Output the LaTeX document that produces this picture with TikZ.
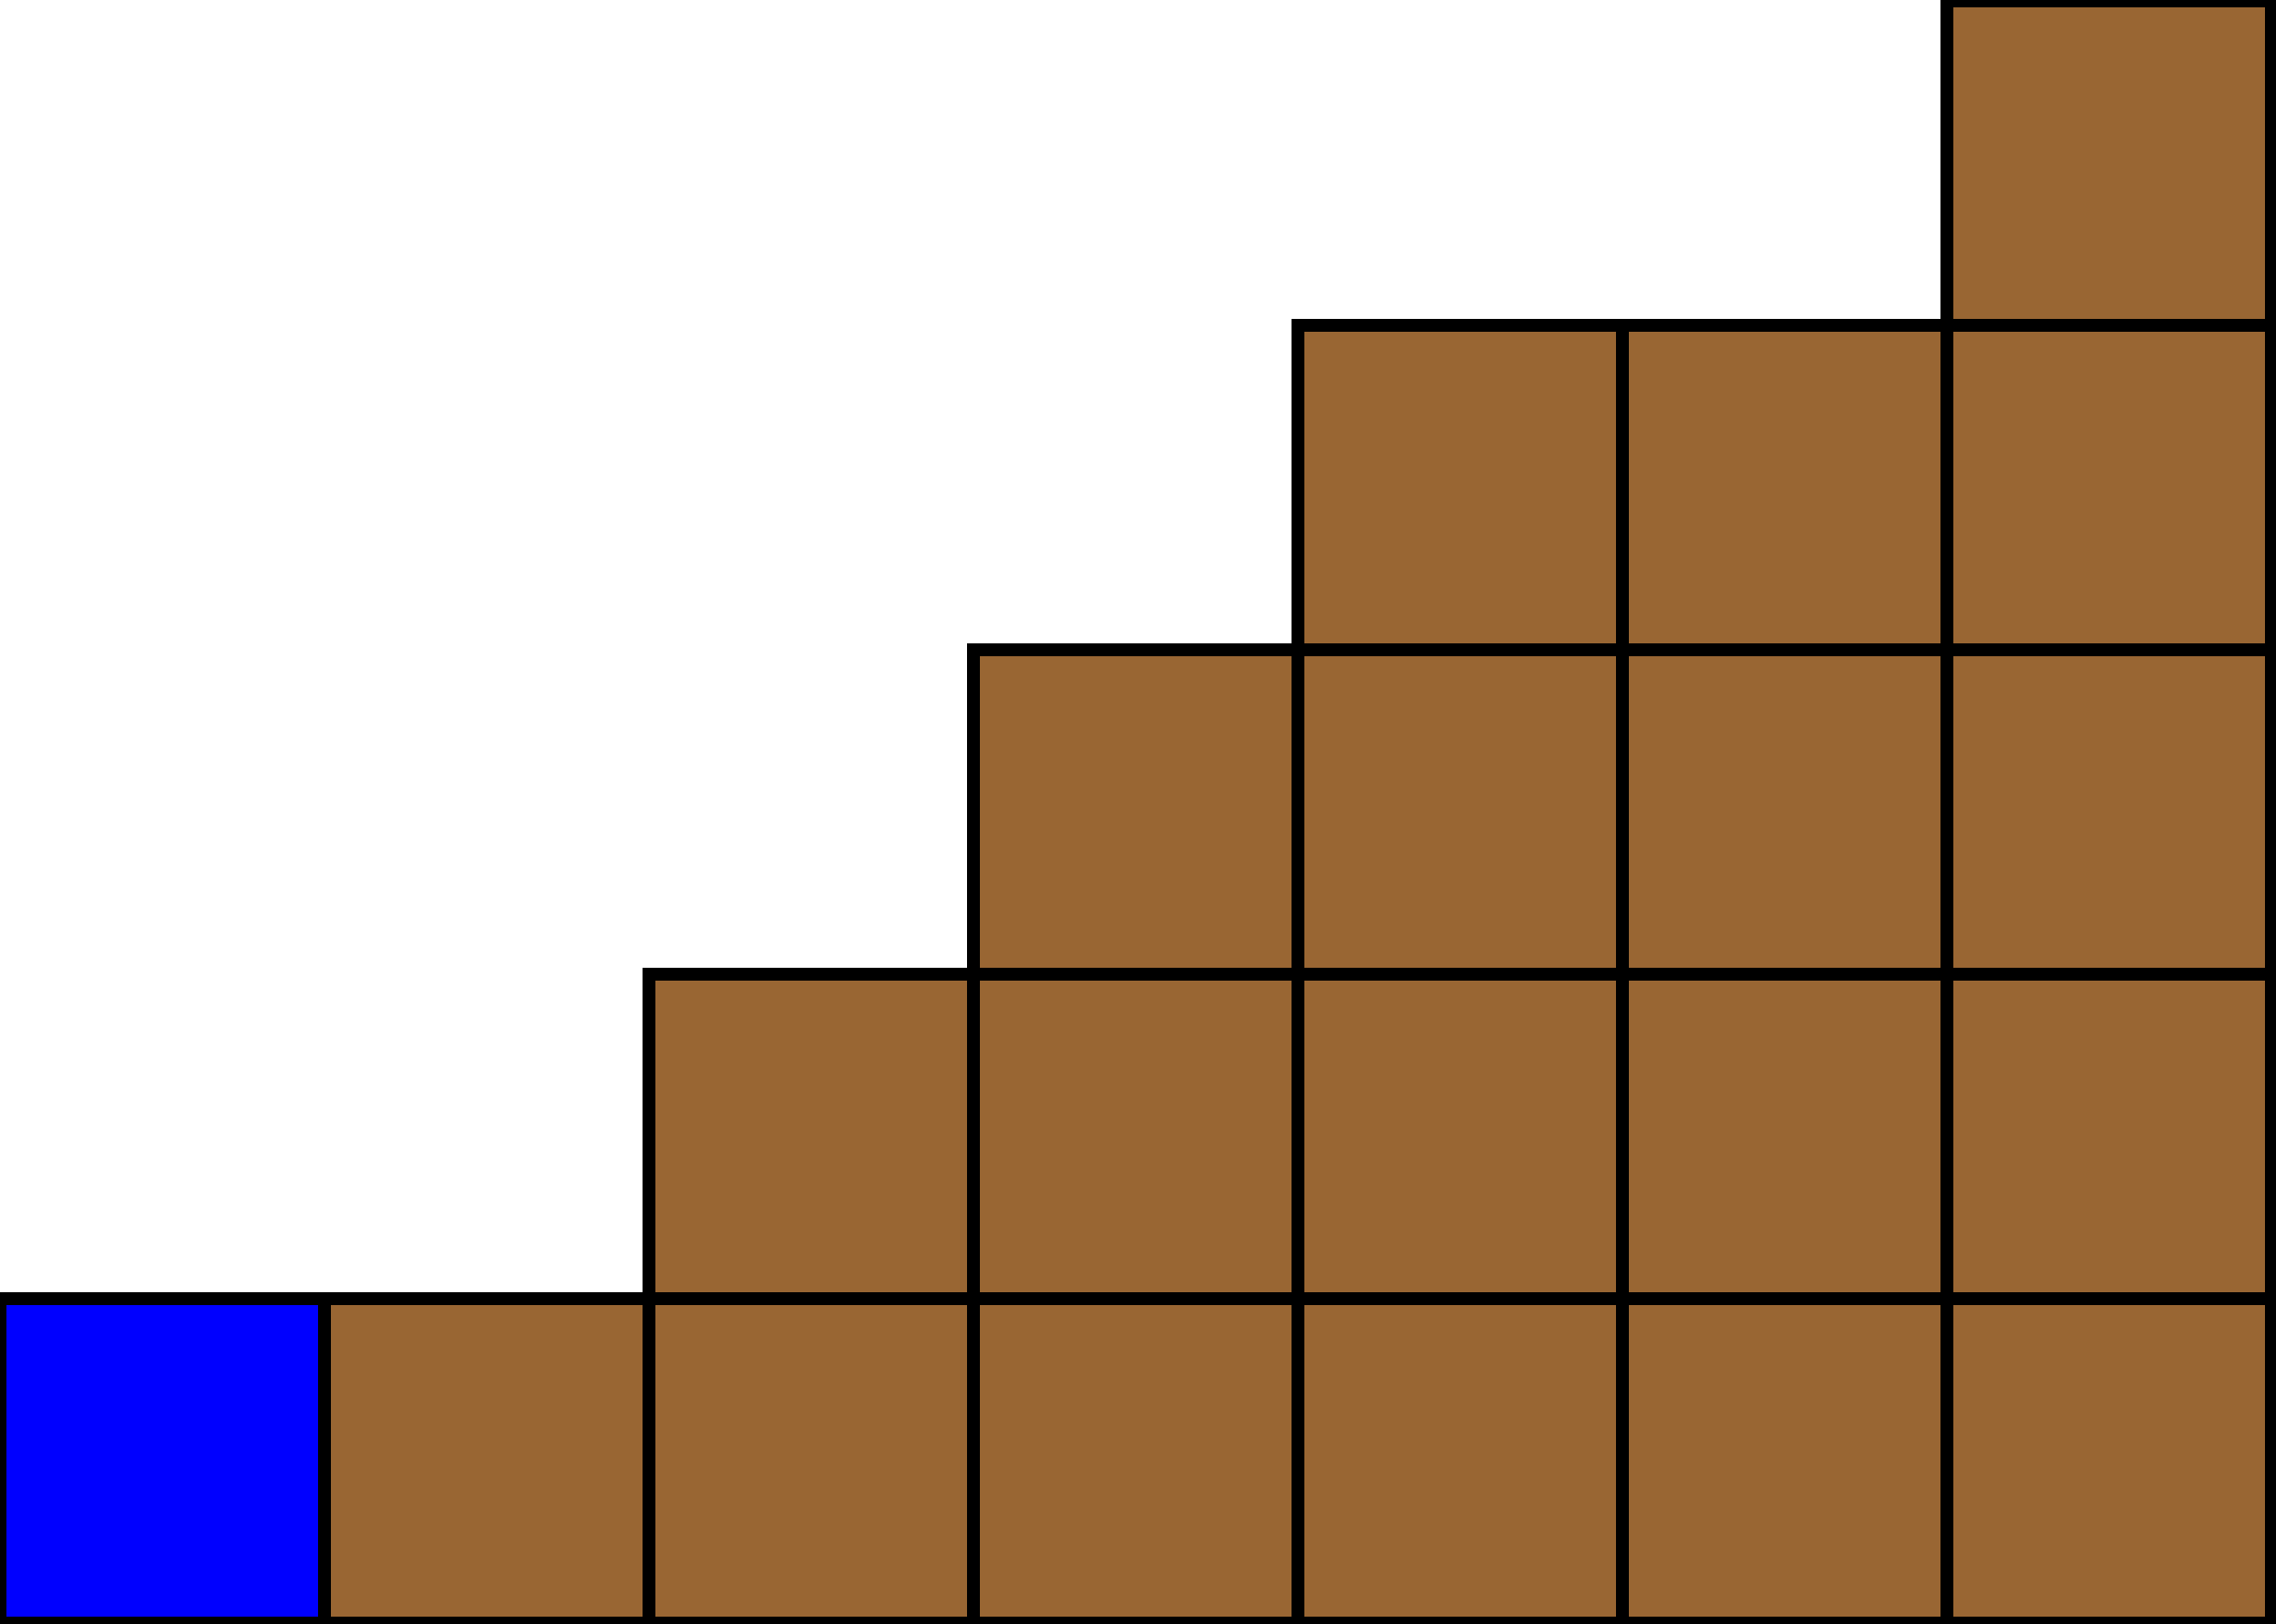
\documentclass[tikz,border=0pt]{standalone}
\definecolor{brick}{RGB}{153,102,51}
\begin{document}
\begin{tikzpicture}[brickcell/.style={draw=black,fill=brick,line width=1.1pt},
                    bluecell/.style={draw=black,fill=blue,line width=1.1pt}]
  \useasboundingbox (0,0) rectangle (7.014,5.003);

  \draw[bluecell] (0,0) rectangle (1,1);
  %%%%%%%%%%%%%%%%%%%%%
  \draw[brickcell] (1,0) rectangle (2,1);
  \draw[brickcell] (2,0) rectangle (3,1);
  \draw[brickcell] (3,0) rectangle (4,1);
  \draw[brickcell] (4,0) rectangle (5,1);
  \draw[brickcell] (5,0) rectangle (6,1);
  \draw[brickcell] (6,0) rectangle (7,1);
  %
  \draw[brickcell] (2,1) rectangle (3,2);
  \draw[brickcell] (3,1) rectangle (4,2);
  \draw[brickcell] (4,1) rectangle (5,2);
  \draw[brickcell] (5,1) rectangle (6,2);
  \draw[brickcell] (6,1) rectangle (7,2);
  %
  \draw[brickcell] (3,2) rectangle (4,3);
  \draw[brickcell] (4,2) rectangle (5,3);
  \draw[brickcell] (5,2) rectangle (6,3);
  \draw[brickcell] (6,2) rectangle (7,3);
  %
  \draw[brickcell] (4,3) rectangle (5,4);
  \draw[brickcell] (5,3) rectangle (6,4);
  \draw[brickcell] (6,3) rectangle (7,4);
  %
  \draw[brickcell] (6,4) rectangle (7,5);
\end{tikzpicture}
\end{document}
